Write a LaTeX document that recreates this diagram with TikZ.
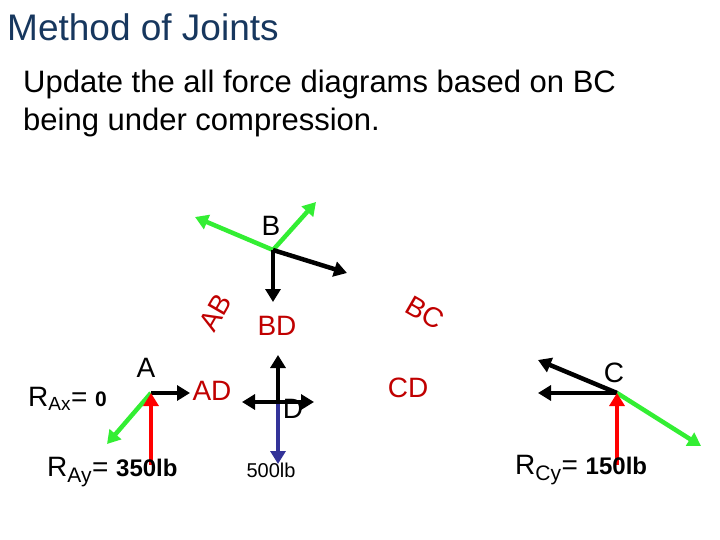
\documentclass[tikz,border=0pt]{standalone}
\usepackage{fontspec}
\setmainfont{Liberation Sans}
\usetikzlibrary{arrows.meta}
\definecolor{ttl}{HTML}{17375E}
\definecolor{lbl}{HTML}{C00000}
\definecolor{grn}{HTML}{33EE33}
\definecolor{blu}{HTML}{333399}
\begin{document}
\begin{tikzpicture}[x=1pt,y=-1pt,
  frc/.style={line width=4.5pt,-{Triangle[length=13pt,width=15pt]}},
  gf/.style={frc,grn},
  bf/.style={frc,black},
  rf/.style={frc,red},
  mem/.style={text=lbl,font=\fontsize{28}{30}\selectfont,inner sep=0pt},
  jl/.style={font=\fontsize{28}{30}\selectfont,inner sep=0pt},
  big/.style={font=\fontsize{28}{30}\selectfont,inner sep=0pt}]
\useasboundingbox (0,0) rectangle (720,540);
\node[anchor=west,text=ttl,font=\fontsize{37}{40}\selectfont,inner sep=0pt] (title) at (7,27) {Method of Joints};
\node[anchor=north west,align=left,font=\fontsize{31}{38}\selectfont,inner sep=0pt] (sub) at (23,70) {Update the all force diagrams based on BC\\being under compression.};
% joint B
\coordinate (B) at (273,250);
\coordinate (B1) at (195,217); \coordinate (B2) at (316,202);
\coordinate (B3) at (273,302); \coordinate (B4) at (347,273);
\draw[gf] (B) -- (B1); \draw[gf] (B) -- (B2);
\draw[bf] (B) -- (B3); \draw[bf] (B) -- (B4);
\node[jl] (lB) at (271,226) {B};
% members
\node[mem,rotate=60] (AB) at (215,313) {AB};
\node[mem] (BD) at (277,326) {BD};
\node[mem,rotate=-30] (BC) at (425,313) {BC};
\node[mem] (AD) at (212,391) {AD};
\node[mem] (CD) at (408,388) {CD};
% joint A
\coordinate (A) at (151,393);
\coordinate (A1) at (190,393); \coordinate (A2) at (107,444); \coordinate (A3) at (151,465);
\draw[gf] (A) -- (A2);
\draw[bf] (A) -- (A1);
\draw[rf] (A3) -- (A);
\node[jl] (lA) at (146,368) {A};
\node[anchor=west,big] (rax) at (28,399) {R\textsubscript{\fontsize{19}{19}\selectfont Ax}= \textbf{\fontsize{21}{21}\selectfont 0}};
\node[anchor=west,big] (ray) at (47,472) {R\textsubscript{\fontsize{21}{21}\selectfont Ay}= \textbf{\fontsize{24}{24}\selectfont 350lb}};
% joint D
\coordinate (D) at (278,402);
\coordinate (D1) at (278,355); \coordinate (D2) at (242,402); \coordinate (D3) at (314,402); \coordinate (D4) at (278,464);
\draw[frc,blu] (D) -- (D4);
\draw[bf] (D) -- (D1); \draw[bf] (D) -- (D2); \draw[bf] (D) -- (D3);
\node[jl] (lD) at (293,409) {D};
\node[font=\fontsize{20}{20}\selectfont] (w) at (271,470) {500lb};
% joint C
\coordinate (C) at (617,393);
\coordinate (C1) at (538,360); \coordinate (C2) at (538,393); \coordinate (C3) at (701,446); \coordinate (C4) at (617,465);
\draw[gf] (C) -- (C3);
\draw[bf] (C) -- (C1); \draw[bf] (C) -- (C2);
\draw[rf] (C4) -- (C);
\node[jl] (lC) at (614,373) {C};
\node[anchor=west,big] (rcy) at (515,470) {R\textsubscript{\fontsize{21}{21}\selectfont Cy}= \textbf{\fontsize{24}{24}\selectfont 150lb}};
\end{tikzpicture}
\end{document}
